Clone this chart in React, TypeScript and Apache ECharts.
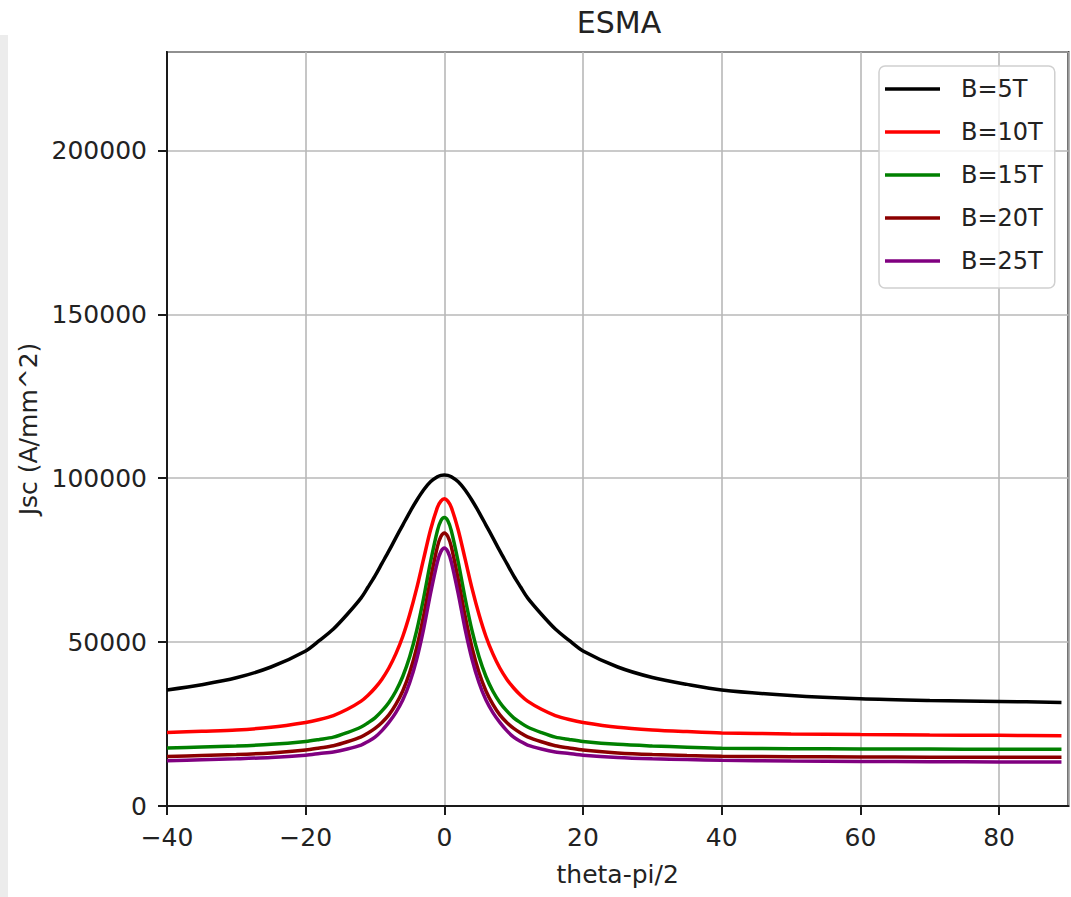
import { useEffect, useRef } from 'react';
import * as echarts from 'echarts';

const thetaValues = [-40, -35, -30, -25, -20, -18, -16, -14, -12, -11, -10, -9, -8, -7, -6, -5, -4, -3, -2, -1, -0.5, 0, 0.5, 1, 2, 3, 4, 5, 6, 7, 8, 9, 10, 11, 12, 14, 16, 18, 20, 25, 30, 35, 40, 50, 60, 70, 80, 89];

const jscB5 = [35400, 37000, 39100, 42400, 47300, 50500, 54000, 58500, 63500, 66800, 70200, 74000, 77800, 81800, 85700, 89600, 93200, 96400, 98900, 100400, 100850, 101000, 100850, 100400, 98900, 96400, 93200, 89600, 85700, 81800, 77800, 74000, 70200, 66800, 63500, 58500, 54000, 50500, 47300, 42400, 39200, 37100, 35400, 33700, 32700, 32200, 31900, 31600];
const jscB10 = [22400, 22800, 23200, 24000, 25500, 26400, 27600, 29500, 32000, 33800, 36000, 38700, 42100, 46400, 51700, 58400, 66300, 75300, 84200, 91100, 93000, 93700, 93000, 91100, 84200, 75300, 66300, 58400, 51700, 46400, 42100, 38700, 36000, 33800, 32000, 29500, 27600, 26400, 25500, 24000, 23200, 22700, 22300, 22000, 21800, 21650, 21550, 21450];
const jscB15 = [17700, 18000, 18300, 18800, 19700, 20300, 21000, 22400, 24100, 25400, 26900, 29000, 31600, 35000, 39500, 45500, 53400, 63300, 74400, 84000, 87000, 88000, 87000, 84000, 74400, 63300, 53400, 45500, 39500, 35000, 31600, 29000, 26900, 25400, 24100, 22400, 21000, 20300, 19700, 18800, 18300, 17950, 17650, 17500, 17400, 17350, 17300, 17300];
const jscB20 = [15100, 15400, 15700, 16200, 17050, 17700, 18400, 19600, 21100, 22300, 23700, 25500, 27800, 31000, 35100, 40700, 48200, 57900, 69100, 79100, 82200, 83300, 82200, 79100, 69100, 57900, 48200, 40700, 35100, 31000, 27800, 25500, 23700, 22300, 21100, 19600, 18400, 17700, 17050, 16200, 15700, 15400, 15200, 15050, 14950, 14900, 14880, 14870];
const jscB25 = [13800, 14100, 14400, 14800, 15500, 16000, 16500, 17400, 18600, 19700, 21000, 23000, 25500, 28500, 32300, 37600, 44700, 53900, 64800, 74500, 77600, 78700, 77600, 74500, 64800, 53900, 44700, 37600, 32300, 28500, 25500, 23000, 21000, 19700, 18600, 17400, 16500, 16000, 15500, 14800, 14400, 14150, 13950, 13700, 13600, 13500, 13450, 13430];

const seriesNames = ['B=5T', 'B=10T', 'B=15T', 'B=20T', 'B=25T'];
const seriesValues = [jscB5, jscB10, jscB15, jscB20, jscB25];
const seriesColors = ['#000000', '#ff0000', '#008000', '#8b0000', '#800080'];

const xRange = [-40, 90];
const xTickStep = 20;
const yRange = [0, 230000];
const yTickStep = 50000;

const chartTitle = 'ESMA';
const xAxisTitle = 'theta-pi/2';
const yAxisTitle = 'Jsc (A/mm^2)';

const FONT = 'DejaVu Sans';
const TEXT_COLOR = '#222222';
const SPINE = '#1a1a1a';

export default function App() {
  const ref = useRef<HTMLDivElement>(null);

  useEffect(() => {
    if (!ref.current) return;
    const chart = echarts.init(ref.current, null, { renderer: 'svg' });

    const series = seriesNames.map((name, i) => ({
      name,
      type: 'line',
      data: thetaValues.map((x, j) => [x, seriesValues[i][j]]),
      showSymbol: false,
      smooth: 0.3,
      lineStyle: { color: seriesColors[i], width: 3.5 },
      itemStyle: { color: seriesColors[i] },
      z: 3,
    }));

    const option = {
      animation: false,
      backgroundColor: '#ffffff',
      textStyle: { fontFamily: FONT },
      graphic: [
        {
          type: 'rect',
          shape: { x: 0, y: 35, width: 8, height: 862 },
          style: { fill: '#ececec' },
          silent: true,
        },
        {
          type: 'text',
          x: 619,
          y: 22,
          style: {
            text: chartTitle,
            fontFamily: FONT,
            fontSize: 30,
            fill: TEXT_COLOR,
            align: 'center',
            verticalAlign: 'middle',
          },
        },
      ],
      grid: {
        left: 167,
        right: 2.6,
        top: 52,
        bottom: 91,
        show: true,
        borderColor: SPINE,
        borderWidth: 2,
        backgroundColor: 'transparent',
      },
      legend: {
        orient: 'vertical',
        left: 879,
        top: 66,
        data: seriesNames,
        icon: 'rect',
        itemWidth: 55,
        itemHeight: 3.5,
        itemGap: 17,
        padding: [10, 12, 14, 6],
        backgroundColor: 'rgba(255,255,255,0.8)',
        borderColor: '#d0d0d0',
        borderWidth: 1.5,
        borderRadius: 6,
        textStyle: {
          fontFamily: FONT,
          fontSize: 24,
          color: TEXT_COLOR,
          lineHeight: 26,
          padding: [0, 0, 0, 16],
        },
      },
      xAxis: {
        type: 'value',
        position: 'bottom',
        min: xRange[0],
        max: xRange[1],
        interval: xTickStep,
        name: xAxisTitle,
        nameLocation: 'middle',
        nameGap: 56,
        nameTextStyle: { fontFamily: FONT, fontSize: 25, color: TEXT_COLOR },
        axisLine: { show: true, onZero: false, lineStyle: { color: SPINE, width: 2 } },
        axisTick: { show: true, length: 9, lineStyle: { color: SPINE, width: 2 } },
        axisLabel: {
          margin: 19,
          fontFamily: FONT,
          fontSize: 25,
          color: TEXT_COLOR,
          showMaxLabel: false,
          formatter: (v: number) => (v < 0 ? '\u2212' + Math.abs(v) : String(v)),
        },
        splitLine: { show: true, lineStyle: { color: '#b8b8b8', width: 1.6 } },
      },
      yAxis: {
        type: 'value',
        position: 'left',
        min: yRange[0],
        max: yRange[1],
        interval: yTickStep,
        name: yAxisTitle,
        nameLocation: 'middle',
        nameGap: 126,
        nameTextStyle: { fontFamily: FONT, fontSize: 25, color: TEXT_COLOR },
        axisLine: { show: true, onZero: false, lineStyle: { color: SPINE, width: 2 } },
        axisTick: { show: true, length: 9, lineStyle: { color: SPINE, width: 2 } },
        axisLabel: {
          margin: 20,
          fontFamily: FONT,
          fontSize: 25,
          color: TEXT_COLOR,
          showMaxLabel: false,
          formatter: (v: number) => String(v),
        },
        splitLine: { show: true, lineStyle: { color: '#b8b8b8', width: 1.6 } },
      },
      series,
    };

    chart.setOption(option as any);
    return () => chart.dispose();
  }, []);

  return (
    <div
      ref={ref}
      style={{ position: 'fixed', left: 0, top: 0, width: 1071, height: 897, background: '#ffffff' }}
    />
  );
}
